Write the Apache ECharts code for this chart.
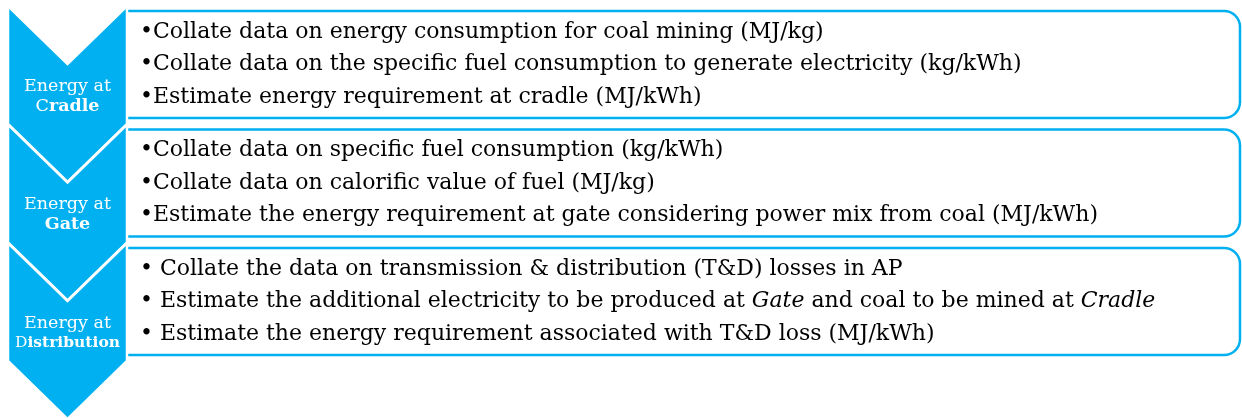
<!DOCTYPE html>
<html>
<head>
<meta charset="utf-8">
<script src="https://cdn.jsdelivr.net/npm/echarts@6/dist/echarts.min.js"></script>
<style>
  html, body { margin: 0; padding: 0; background: #fff; }
  #main { width: 1242px; height: 418px; }
</style>
</head>
<body>
<div id="main"></div>
<script>
// stages and their steps
const stageNames = ['Energy at', 'Energy at', 'Energy at'];
const stageKeys = [
  ['C', 'radle'],
  ['', 'Gate'],
  ['D', 'istribution']
];
const cradleSteps = [
  '•Collate data on energy consumption for coal mining (MJ/kg)',
  '•Collate data on the specific fuel consumption to generate electricity (kg/kWh)',
  '•Estimate energy requirement at cradle (MJ/kWh)'
];
const gateSteps = [
  '•Collate data on specific fuel consumption (kg/kWh)',
  '•Collate data on calorific value of fuel (MJ/kg)',
  '•Estimate the energy requirement at gate considering power mix from coal (MJ/kWh)'
];
// {i|...} marks italic words
const distSteps = [
  '• Collate the data on transmission & distribution (T&D) losses in AP',
  '• Estimate the additional electricity to be produced at {i|Gate}{n| and coal to be mined at }{i|Cradle}',
  '• Estimate the energy requirement associated with T&D loss (MJ/kWh)'
];
const allSteps = [cradleSteps, gateSteps, distSteps];

const blue = '#00B0F0';
const font = 'DejaVu Serif';
const bodySize = 22;
const labelSize = 17.5;

const chart = echarts.init(document.getElementById('main'));

const x0 = 8, x1 = 127, xc = (x0 + x1) / 2;
const notch = 58, bodyH = 118, step = 118.5, top0 = 6;

let elements = [];

// wrap a step string into rich text, keeping {i|..} pieces italic
function richLine(s) {
  const k = s.indexOf('{i|');
  if (k < 0) return '{n|' + s + '}';
  return '{n|' + s.slice(0, k) + '}' + s.slice(k);
}

// rounded boxes first, chevrons on top
allSteps.forEach((steps, i) => {
  const t = top0 + i * step;
  elements.push({
    type: 'rect',
    shape: { x: 125, y: t + 5, width: 1115, height: 107, r: [0, 16, 16, 0] },
    style: { fill: '#fff', stroke: blue, lineWidth: 2.5 }
  });
  steps.forEach((s, j) => {
    elements.push({
      type: 'text',
      x: 140,
      y: t + 26 + j * 32.5,
      style: {
        text: richLine(s),
        rich: {
          n: { fontFamily: font, fontSize: bodySize, fill: '#000' },
          i: { fontFamily: font, fontSize: bodySize, fontStyle: 'italic', fill: '#000' }
        },
        verticalAlign: 'middle'
      }
    });
  });
});

allSteps.forEach((steps, i) => {
  const t = top0 + i * step;
  // long bold word has to fit inside the chevron
  const keySize = stageKeys[i].join('').length > 8 ? 15.5 : labelSize;
  elements.push({
    type: 'polygon',
    shape: {
      points: [
        [x0, t], [xc, t + notch], [x1, t],
        [x1, t + bodyH], [xc, t + bodyH + notch], [x0, t + bodyH]
      ]
    },
    style: { fill: blue, stroke: '#fff', lineWidth: 2.5 }
  });
  elements.push({
    type: 'text',
    x: xc,
    y: t + 90,
    style: {
      text: '{a|' + stageNames[i] + '}\n{c|' + stageKeys[i][0] + '}{b|' + stageKeys[i][1] + '}',
      rich: {
        a: { fontFamily: font, fontSize: labelSize, fill: '#fff', lineHeight: 20 },
        c: { fontFamily: font, fontSize: keySize, fill: '#fff', lineHeight: 20 },
        b: { fontFamily: font, fontSize: keySize, fontWeight: 'bold', fill: '#fff', lineHeight: 20 }
      },
      align: 'center',
      verticalAlign: 'middle'
    }
  });
});

chart.setOption({
  animation: false,
  graphic: { elements: elements }
});
</script>
</body>
</html>
